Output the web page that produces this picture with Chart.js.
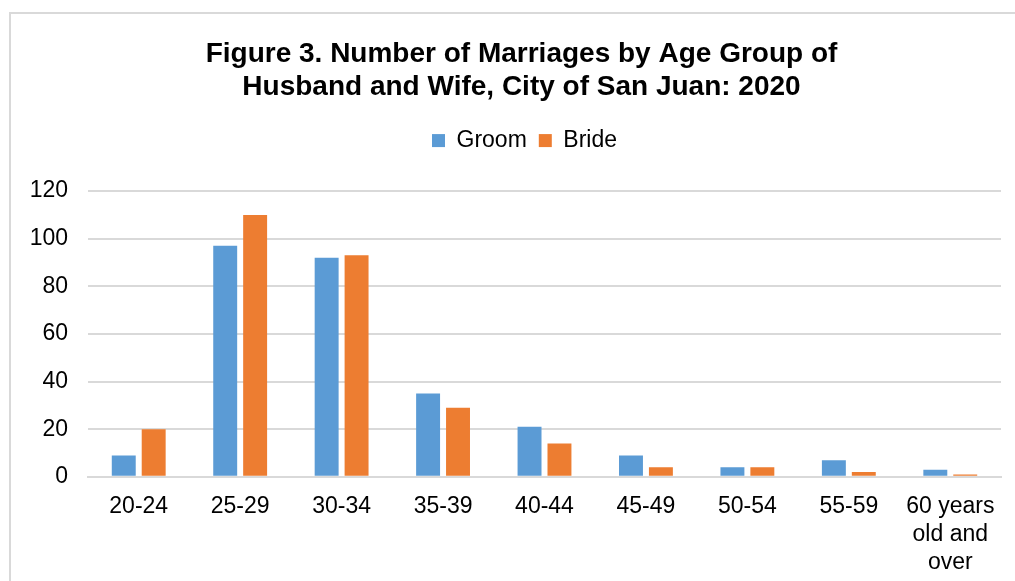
<!DOCTYPE html>
<html>
<head>
<meta charset="utf-8">
<script src="https://cdn.jsdelivr.net/npm/chart.js@4.4.0/dist/chart.umd.min.js"></script>
<style>
  html, body { margin: 0; padding: 0; background: #fff; overflow: hidden; }
  .frame { position: absolute; left: 9px; top: 12px; width: 1100px; height: 700px; border: 2px solid #d9d9d9; }
  #myChart { position: absolute; left: 0; top: 0; }
</style>
</head>
<body>
<div class="frame"></div>
<canvas id="myChart" width="1015" height="597"></canvas>
<script>
const ctx = document.getElementById('myChart');
const grupos = ['20-24', '25-29', '30-34', '35-39', '40-44', '45-49', '50-54', '55-59', ['60 years', 'old and', 'over']];
const groom = [9, 97, 92, 35, 21, 9, 4, 7, 3];
const bride = [20, 110, 93, 29, 14, 4, 4, 2, 1];
const yTicks = [0, 20, 40, 60, 80, 100, 120];

Chart.defaults.font.family = '"Liberation Sans", Arial, sans-serif';
Chart.defaults.color = '#000';

// espacio extra debajo de la leyenda y titulo un poco a la derecha
const ajustes = {
  id: 'ajustes',
  beforeInit(chart) {
    const fit = chart.legend.fit;
    chart.legend.fit = function () {
      fit.bind(chart.legend)();
      this.height += 29;
    };
  },
  afterLayout(chart) {
    chart.titleBlock.left += 6;
    chart.titleBlock.right += 6;
    chart.legend.left += 9;
    chart.legend.right += 9;
  }
};

const myChart = new Chart(ctx, {
  type: 'bar',
  data: {
    labels: grupos,
    datasets: [{
      label: 'Groom',
      data: groom,
      backgroundColor: '#5B9BD5',
      categoryPercentage: 0.59,
      barPercentage: 0.8
    }, {
      label: 'Bride',
      data: bride,
      backgroundColor: '#ED7D31',
      categoryPercentage: 0.59,
      barPercentage: 0.8
    }]
  },
  plugins: [ajustes],
  options: {
    responsive: false,
    animation: false,
    layout: {
      padding: { left: 30, right: 14, top: 28, bottom: 4 }
    },
    plugins: {
      title: {
        display: true,
        text: ['Figure 3. Number of Marriages by Age Group of', 'Husband and Wife, City of San Juan: 2020'],
        font: { size: 28, weight: 'bold', lineHeight: 1.18 },
        padding: { top: 10, bottom: 13 },
        color: '#000'
      },
      legend: {
        labels: {
          boxWidth: 13,
          boxHeight: 13,
          padding: 12,
          font: { size: 23 },
          color: '#000'
        }
      },
      tooltip: { enabled: false }
    },
    scales: {
      x: {
        grid: { display: false, drawTicks: false },
        border: { color: '#d9d9d9', width: 2 },
        ticks: {
          font: { size: 23, lineHeight: 1.22 },
          padding: 16,
          maxRotation: 0,
          autoSkip: false
        }
      },
      y: {
        min: 0,
        max: 120,
        afterBuildTicks: (axis) => { axis.ticks = yTicks.map(v => ({ value: v })); },
        grid: { color: '#d9d9d9', lineWidth: 2, drawTicks: false },
        border: { display: false },
        ticks: {
          font: { size: 23 },
          padding: 20
        },
        afterFit: (axis) => { axis.width = 58; }
      }
    }
  }
});
</script>
</body>
</html>
